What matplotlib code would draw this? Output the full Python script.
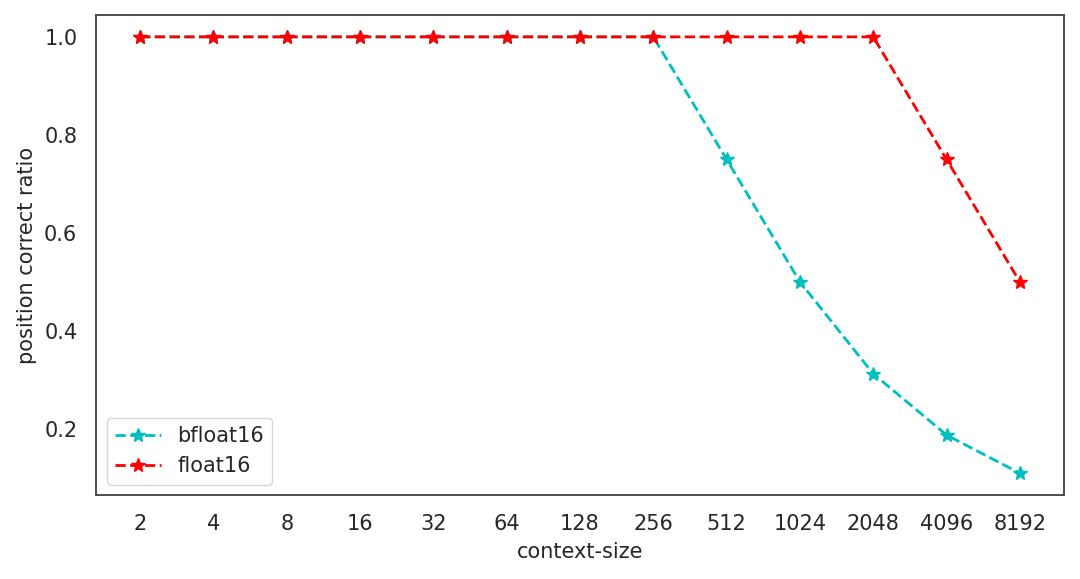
import matplotlib.pyplot as plt
import seaborn as sns

sns.set_style('white')
plt.rcParams['font.family'] = ['DejaVu Sans']

# 数据
sizes = ['2', '4', '8', '16', '32', '64', '128', '256', '512', '1024', '2048', '4096', '8192']
bfloat16 = [1.0, 1.0, 1.0, 1.0, 1.0, 1.0, 1.0, 1.0, 0.75, 0.5, 0.3125, 0.1875, 0.109375]
float16 = [1.0, 1.0, 1.0, 1.0, 1.0, 1.0, 1.0, 1.0, 1.0, 1.0, 1.0, 0.75, 0.5]

x = list(range(len(sizes)))

fig, ax = plt.subplots(figsize=(10.8, 5.79), dpi=100)
ax.plot(x, bfloat16, 'c*--', linewidth=2, markersize=10, label='bfloat16')
ax.plot(x, float16, 'r*--', linewidth=2, markersize=10, label='float16')

ax.set_xticks(x)
ax.set_xticklabels(sizes)
ax.tick_params(labelsize=15, colors='.15', pad=10)
ax.set_xlabel('context-size', fontsize=15, color='.15', labelpad=6)
ax.set_ylabel('position correct ratio', fontsize=15, color='.15', labelpad=5)
for s in ax.spines.values():
    s.set_color('.25')
    s.set_linewidth(1.3)
ax.legend(loc='lower left', fontsize=15, handlelength=2.2)

plt.subplots_adjust(left=0.089, right=0.985, top=0.974, bottom=0.145)
plt.savefig('out.png')
